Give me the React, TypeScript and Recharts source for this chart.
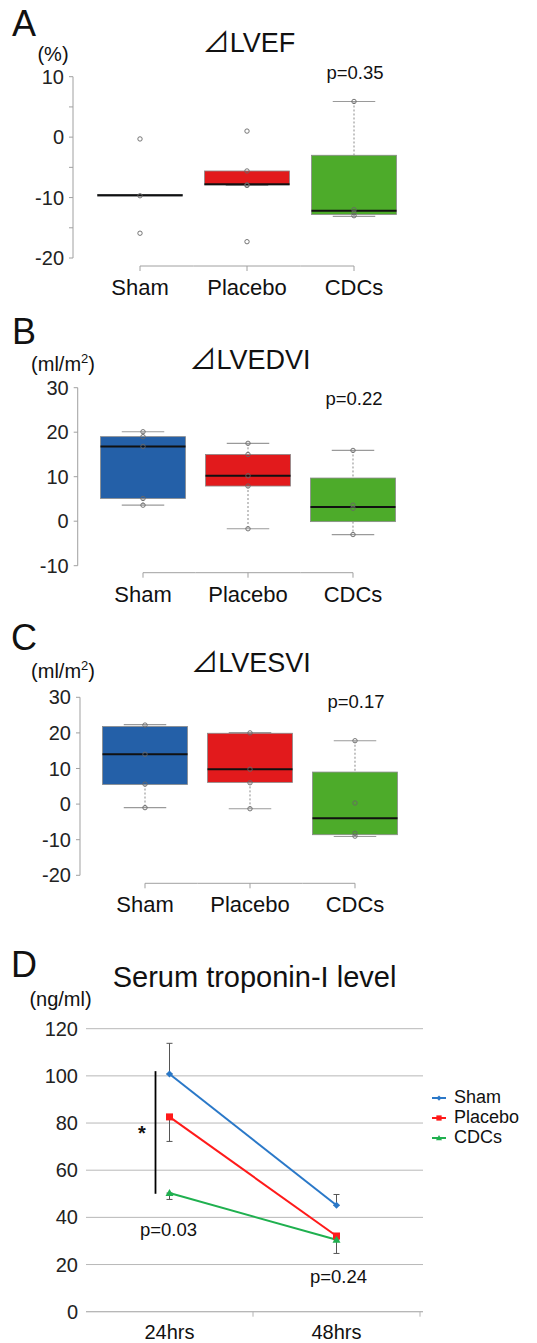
import React from 'react'
import {
  ComposedChart,
  Bar,
  Scatter,
  Line,
  XAxis,
  YAxis,
  ErrorBar,
  CartesianGrid,
  ReferenceLine,
  Legend,
} from 'recharts'

const FONT = "'Liberation Sans', Arial, 'Noto Sans CJK JP', sans-serif"

const groups = ['Sham', 'Placebo', 'CDCs']
const groupColors = ['#2460a8', '#e21a1c', '#4dab2a']

// ⊿LVEF (%)
const lvefQ1 = [-9.7, -7.9, -12.8]
const lvefMedian = [-9.6, -7.8, -12.2]
const lvefQ3 = [-9.5, -5.6, -3.0]
const lvefLow = [-9.7, -8.0, -13.1]
const lvefHigh = [-9.5, -5.6, 5.9]
const lvefPoints = [
  [-0.3, -9.7, -15.9],
  [1.0, -5.6, -7.9, -8.0, -17.3],
  [5.9, -12.0, -12.5, -13.0],
]
const lvefTicks = [-20, -15, -10, -5, 0, 5, 10]

// ⊿LVEDVI (ml/m2)
const edviQ1 = [5.1, 7.9, -0.1]
const edviMedian = [16.8, 10.2, 3.2]
const edviQ3 = [19.0, 15.0, 9.7]
const edviLow = [3.6, -1.7, -3.0]
const edviHigh = [20.1, 17.5, 15.9]
const edviPoints = [
  [20.1, 19.0, 16.8, 5.1, 3.6],
  [17.5, 15.0, 10.2, 7.9, -1.7],
  [15.9, 3.6, 2.9, -3.0],
]
const edviTicks = [-10, 0, 10, 20, 30]

// ⊿LVESVI (ml/m2)
const esviQ1 = [5.5, 6.1, -8.6]
const esviMedian = [14.0, 9.8, -4.0]
const esviQ3 = [21.8, 19.9, 9.0]
const esviLow = [-1.0, -1.3, -9.1]
const esviHigh = [22.3, 20.1, 17.8]
const esviPoints = [
  [22.2, 14.0, 5.6, -1.0],
  [20.0, 9.8, 6.0, -1.3],
  [17.8, 0.3, -8.2, -9.0],
]
const esviTicks = [-20, -10, 0, 10, 20, 30]

// serum troponin-I (ng/ml)
const hours = ['24hrs', '48hrs']
const seriesNames = ['Sham', 'Placebo', 'CDCs']
const shamTrop = [100.8, 45.1]
const placeboTrop = [82.6, 32.1]
const cdcsTrop = [50.3, 30.5]
const shamErr = [[0, 13.0], [0, 4.6]]
const placeboErr = [[10.4, 0], [0, 0]]
const cdcsErr = [[2.7, 0], [5.8, 0]]
const tropTicks = [0, 20, 40, 60, 80, 100, 120]
const sigRange = [102, 50]

const seriesColors: Record<string, string> = { Sham: '#2a78c8', Placebo: '#ff1a1a', CDCs: '#1fb04f' }
const errKeys: Record<string, string> = { Sham: 'shamErr', Placebo: 'placeboErr', CDCs: 'cdcsErr' }

const buildBoxes = (q1: number[], med: number[], q3: number[], lo: number[], hi: number[]) =>
  groups.map((g, i) => ({
    group: g,
    q1: q1[i],
    median: med[i],
    q3: q3[i],
    low: lo[i],
    high: hi[i],
    color: groupColors[i],
  }))

const buildPoints = (pts: number[][]) =>
  pts.flatMap((arr, i) => arr.map((v) => ({ group: groups[i], value: v })))

const tropData = hours.map((h, i) => ({
  hour: h,
  Sham: shamTrop[i],
  Placebo: placeboTrop[i],
  CDCs: cdcsTrop[i],
  shamErr: shamErr[i],
  placeboErr: placeboErr[i],
  cdcsErr: cdcsErr[i],
}))

const BoxShape = (props: any) => {
  const { x, y, width, height, payload } = props
  const top = Math.min(y, y + height)
  const bottom = Math.max(y, y + height)
  const span = payload.high - payload.low
  const py = (v: number) => (span === 0 ? top : top + ((bottom - top) * (payload.high - v)) / span)
  const cx = x + width / 2
  const cap = width / 4
  const yQ3 = py(payload.q3)
  const yQ1 = py(payload.q1)
  const yHi = py(payload.high)
  const yLo = py(payload.low)
  return (
    <g>
      {payload.high > payload.q3 && (
        <g>
          <line x1={cx} x2={cx} y1={yHi} y2={yQ3} stroke="#8a8a8a" strokeDasharray="2 2" />
          <line x1={cx - cap} x2={cx + cap} y1={yHi} y2={yHi} stroke="#9a9a9a" strokeWidth={1.2} />
        </g>
      )}
      {payload.low < payload.q1 && (
        <g>
          <line x1={cx} x2={cx} y1={yQ1} y2={yLo} stroke="#8a8a8a" strokeDasharray="2 2" />
          <line x1={cx - cap} x2={cx + cap} y1={yLo} y2={yLo} stroke="#9a9a9a" strokeWidth={1.2} />
        </g>
      )}
      <rect
        x={x}
        y={yQ3}
        width={width}
        height={Math.max(yQ1 - yQ3, 1.5)}
        fill={payload.color}
        stroke="#8a8a8a"
        strokeWidth={0.8}
      />
      <line
        x1={x}
        x2={x + width}
        y1={py(payload.median)}
        y2={py(payload.median)}
        stroke="#111"
        strokeWidth={2}
      />
    </g>
  )
}

const PointShape = (p: any) => (
  <circle cx={p.cx} cy={p.cy} r={2.2} fill="none" stroke="#666" strokeWidth={0.9} />
)

const makeGroupTick = (band: number, gap: number, labelDy: number) => (p: any) => {
  const { x, y, payload } = p
  const first = payload.value === groups[0]
  const last = payload.value === groups[groups.length - 1]
  const left = first ? x : x - band / 2
  const right = last ? x : x + band / 2
  return (
    <g>
      <line x1={left} x2={right} y1={y + gap} y2={y + gap} stroke="#a0a0a0" />
      <line x1={x} x2={x} y1={y + gap} y2={y + gap + 5} stroke="#a0a0a0" />
      <text x={x} y={y + labelDy} textAnchor="middle" dominantBaseline="central" fontSize={22} fill="#111">
        {payload.value}
      </text>
    </g>
  )
}

const Txt = ({ x, y, size, children, weight }: any) => (
  <div
    style={{
      position: 'absolute',
      left: x,
      top: y,
      transform: 'translate(-50%, -50%)',
      fontSize: size,
      fontWeight: weight || 'normal',
      lineHeight: 1,
      whiteSpace: 'nowrap',
      color: '#111',
    }}
  >
    {children}
  </div>
)

const BoxPanel = ({ top, height, plotTop, axisX, padLeft, padRight, band, gap, domain, ticks, boxes, points }: any) => (
  <div style={{ position: 'absolute', left: 0, top }}>
    <ComposedChart
      width={537}
      height={height}
      data={boxes}
      margin={{ top: plotTop, right: 117, bottom: 0, left: 0 }}
    >
      <XAxis
        dataKey="group"
        allowDuplicatedCategory={false}
        padding={{ left: padLeft, right: padRight }}
        height={42}
        axisLine={false}
        tickLine={false}
        tickSize={0}
        tickMargin={0}
        interval={0}
        tick={makeGroupTick(band, gap, 29)}
      />
      <YAxis
        type="number"
        width={axisX}
        domain={domain}
        ticks={ticks}
        interval={0}
        allowDataOverflow
        tickFormatter={(v: number) => (v % 10 === 0 ? String(v) : '')}
        axisLine={{ stroke: '#a0a0a0' }}
        tickLine={{ stroke: '#a0a0a0' }}
        tickSize={4}
        tickMargin={5}
        tick={{ fontSize: 20, fill: '#222' }}
      />
      <Bar
        dataKey={(d: any) => [d.low, d.high]}
        barSize={85}
        shape={BoxShape}
        isAnimationActive={false}
      />
      <Scatter data={points} dataKey="value" shape={PointShape} isAnimationActive={false} />
    </ComposedChart>
  </div>
)

const markerFor = (name: string, cx: number, cy: number, color: string, s = 1) => {
  if (name === 'Sham')
    return (
      <polygon
        points={`${cx},${cy - 3.5 * s} ${cx + 3.5 * s},${cy} ${cx},${cy + 3.5 * s} ${cx - 3.5 * s},${cy}`}
        fill={color}
      />
    )
  if (name === 'Placebo')
    return <rect x={cx - 3.5 * s} y={cy - 3.5 * s} width={7 * s} height={7 * s} fill={color} />
  return (
    <polygon
      points={`${cx},${cy - 4 * s} ${cx + 4 * s},${cy + 3 * s} ${cx - 4 * s},${cy + 3 * s}`}
      fill={color}
    />
  )
}

const makeDot = (name: string) => (p: any) => (
  <g key={`${name}-${p.index}`}>{markerFor(name, p.cx, p.cy, seriesColors[name])}</g>
)

const HourTick = (p: any) => {
  const { x, y, payload } = p
  const half = 83.5
  return (
    <g>
      <line x1={x + half} x2={x + half} y1={y} y2={y + 5} stroke="#b4b4b4" />
      <text x={x} y={y + 20} textAnchor="middle" dominantBaseline="central" fontSize={20} fill="#111">
        {payload.value}
      </text>
    </g>
  )
}

const TropLegend = (props: any) => {
  const items = [...(props.payload || [])].sort(
    (a: any, b: any) => seriesNames.indexOf(a.value) - seriesNames.indexOf(b.value),
  )
  return (
    <div>
      {items.map((e: any) => (
        <div key={e.value} style={{ height: 20, display: 'flex', alignItems: 'center' }}>
          <svg width={16} height={12}>
            <line x1={0} x2={14} y1={6} y2={6} stroke={e.color} strokeWidth={2} />
            {markerFor(e.value, 7, 6, e.color, 0.75)}
          </svg>
          <span style={{ marginLeft: 6, fontSize: 18, color: '#111' }}>{e.value}</span>
        </div>
      ))}
    </div>
  )
}

const TropPanel = () => (
  <div style={{ position: 'absolute', left: 0, top: 930 }}>
    <ComposedChart
      width={537}
      height={413}
      data={tropData}
      margin={{ top: 98.7, right: 9, bottom: 0, left: 0 }}
    >
      <CartesianGrid vertical={false} stroke="#b8b8b8" />
      <XAxis
        dataKey="hour"
        scale="band"
        padding={{ left: 0, right: 3 }}
        height={31.3}
        axisLine={{ stroke: '#b4b4b4' }}
        tickLine={false}
        tickSize={0}
        tickMargin={0}
        tick={HourTick}
      />
      <YAxis
        type="number"
        width={86}
        domain={[0, 120]}
        ticks={tropTicks}
        interval={0}
        axisLine={false}
        tickLine={false}
        tickSize={0}
        tickMargin={8}
        tick={{ fontSize: 20, fill: '#222' }}
      />
      <ReferenceLine
        segment={[
          { x: hours[0], y: sigRange[0] },
          { x: hours[0], y: sigRange[1] },
        ]}
        stroke="#000"
        shape={(p: any) => (
          <line x1={p.x1 - 14} x2={p.x2 - 14} y1={p.y1} y2={p.y2} stroke="#000" strokeWidth={1.8} />
        )}
      />
      {seriesNames.map((name) => (
        <Line
          key={name}
          name={name}
          dataKey={name}
          stroke={seriesColors[name]}
          strokeWidth={2}
          dot={makeDot(name)}
          isAnimationActive={false}
        >
          <ErrorBar dataKey={errKeys[name]} width={3} stroke="#555" strokeWidth={1} direction="y" />
        </Line>
      ))}
      <Legend
        layout="vertical"
        align="right"
        verticalAlign="top"
        content={TropLegend}
        wrapperStyle={{ left: 432, top: 157.7, width: 105 }}
      />
    </ComposedChart>
  </div>
)

export default function App() {
  const sup = (t: string) => <span style={{ fontSize: '0.65em', verticalAlign: '0.6em' }}>{t}</span>
  return (
    <div
      style={{
        position: 'absolute',
        left: 0,
        top: 0,
        width: 537,
        height: 1343,
        background: '#fff',
        fontFamily: FONT,
        overflow: 'hidden',
      }}
    >
      <BoxPanel
        top={0}
        height={300}
        plotTop={76.7}
        axisX={73}
        padLeft={13.5}
        padRight={12.5}
        band={107}
        gap={8}
        domain={[-20, 10]}
        ticks={lvefTicks}
        boxes={buildBoxes(lvefQ1, lvefMedian, lvefQ3, lvefLow, lvefHigh)}
        points={buildPoints(lvefPoints)}
      />
      <BoxPanel
        top={300}
        height={307.7}
        plotTop={87.7}
        axisX={77.7}
        padLeft={12.8}
        padRight={14.5}
        band={105}
        gap={7}
        domain={[-10, 30]}
        ticks={edviTicks}
        boxes={buildBoxes(edviQ1, edviMedian, edviQ3, edviLow, edviHigh)}
        points={buildPoints(edviPoints)}
      />
      <BoxPanel
        top={620}
        height={297.3}
        plotTop={77.3}
        axisX={80}
        padLeft={12.5}
        padRight={12.5}
        band={105}
        gap={8}
        domain={[-20, 30]}
        ticks={esviTicks}
        boxes={buildBoxes(esviQ1, esviMedian, esviQ3, esviLow, esviHigh)}
        points={buildPoints(esviPoints)}
      />
      <TropPanel />

      <Txt x={24} y={23.5} size={36}>A</Txt>
      <Txt x={53} y={54} size={20}>(%)</Txt>
      <Txt x={249} y={43} size={27}>⊿LVEF</Txt>
      <Txt x={355} y={73} size={18.5}>p=0.35</Txt>

      <Txt x={24} y={332} size={36}>B</Txt>
      <Txt x={63} y={363} size={20}>(ml/m{sup('2')})</Txt>
      <Txt x={250} y={360} size={27}>⊿LVEDVI</Txt>
      <Txt x={354} y={399} size={18.5}>p=0.22</Txt>

      <Txt x={24} y={638} size={36}>C</Txt>
      <Txt x={63} y={670} size={20}>(ml/m{sup('2')})</Txt>
      <Txt x={251} y={663} size={27}>⊿LVESVI</Txt>
      <Txt x={356} y={701.7} size={18.5}>p=0.17</Txt>

      <Txt x={24} y={965} size={36}>D</Txt>
      <Txt x={254.5} y={976.7} size={29}>Serum troponin-I level</Txt>
      <Txt x={60.5} y={999} size={20}>(ng/ml)</Txt>
      <Txt x={142} y={1133} size={20} weight="bold">*</Txt>
      <Txt x={168.5} y={1230} size={18.5}>p=0.03</Txt>
      <Txt x={338.5} y={1276.7} size={18.5}>p=0.24</Txt>
    </div>
  )
}
